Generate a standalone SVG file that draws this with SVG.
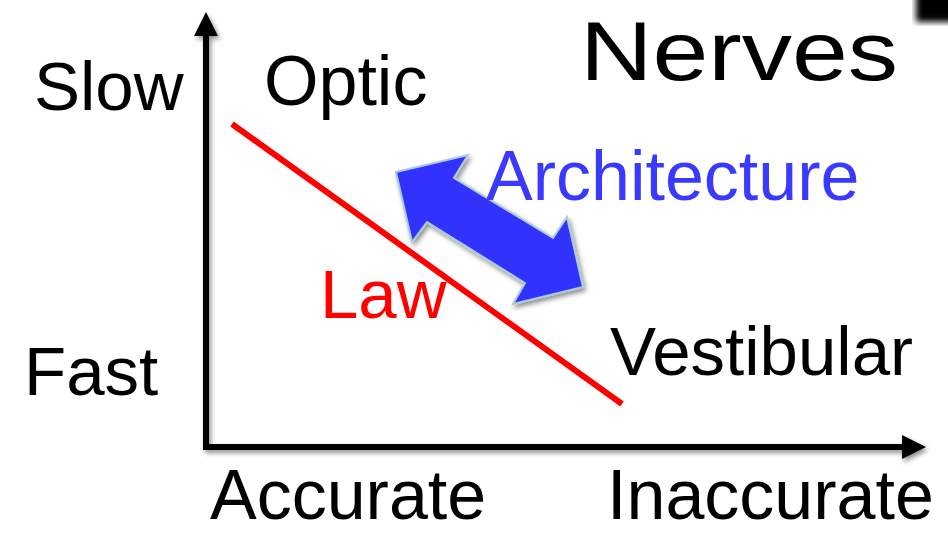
<svg xmlns="http://www.w3.org/2000/svg" width="948" height="534" viewBox="0 0 948 534">
<defs>
<filter id="sh" x="-20%" y="-20%" width="140%" height="140%">
<feGaussianBlur in="SourceAlpha" stdDeviation="2.5"/>
<feOffset dx="2" dy="3" result="b"/>
<feComponentTransfer><feFuncA type="linear" slope="0.45"/></feComponentTransfer>
<feMerge><feMergeNode/><feMergeNode in="SourceGraphic"/></feMerge>
</filter>
<filter id="blur"><feGaussianBlur stdDeviation="3"/></filter>
<style>
text{font-family:"Liberation Sans",Arial,sans-serif;font-size:69px;fill:#000}
.big{font-size:70px}
.axis{stroke:#000;stroke-width:6;fill:none}
</style>
</defs>
<rect x="0" y="0" width="948" height="534" fill="#fff"/>
<rect x="916" y="-10" width="40" height="32" fill="#000" filter="url(#blur)"/>
<g id="connectors">
<g filter="url(#sh)">
<path class="axis" d="M206 448 V32 M203 447 H906"/>
<polygon points="206,12 194,36 218,36" fill="#000"/>
<polygon points="926,447 902,435 902,459" fill="#000"/>
</g>
<line x1="232" y1="124" x2="622" y2="404" stroke="#ff0000" stroke-width="6"/>
<polygon id="arch-arrow" points="396,172 468,155 454,178 553,238 567,217 583,287 513,304 525,283 427,222 412,242" fill="#3333ff" stroke="#a8ccd8" stroke-width="2" stroke-linejoin="miter" filter="url(#sh)"/>
</g>
<g id="label-slow"><text x="34" y="110">Slow</text></g>
<g id="label-fast"><text x="24" y="395">Fast</text></g>
<g id="label-optic"><text class="big" x="264" y="105">Optic</text></g>
<g id="label-nerves"><text transform="translate(580,80) scale(1.21,1)" x="0" y="0" style="font-size:83px">Nerves</text></g>
<g id="label-architecture"><text class="big" x="486" y="200" style="fill:#3a3aff">Architecture</text></g>
<g id="label-law"><text x="320" y="318" style="fill:#ff0000">Law</text></g>
<g id="label-vestibular"><text x="610" y="375">Vestibular</text></g>
<g id="label-accurate"><text class="big" x="210" y="519">Accurate</text></g>
<g id="label-inaccurate"><text class="big" x="607" y="519">Inaccurate</text></g>
</svg>
